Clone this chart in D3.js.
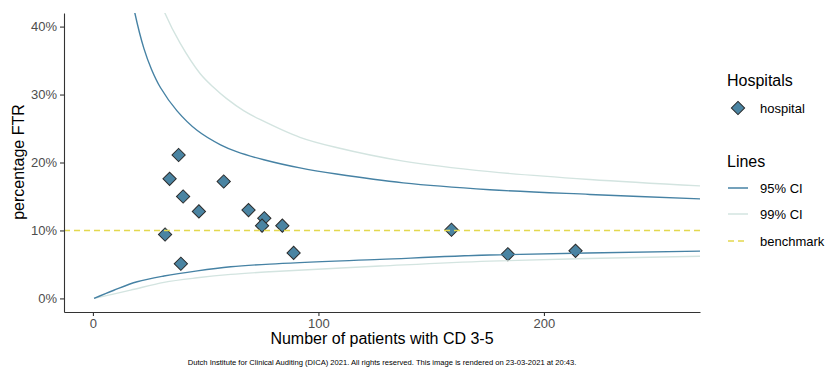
<!DOCTYPE html>
<html>
<head>
<meta charset="utf-8">
<script src="https://cdn.jsdelivr.net/npm/d3@7"></script>
<style>
  body { margin: 0; background: #fff; }
  svg { display: block; font-family: "Liberation Sans", Arial, sans-serif; }
</style>
</head>
<body>
<svg id="chart" width="825" height="367"></svg>
<script>
// ---- data ----
const hospitalN   = [38, 34, 40, 47, 32, 39, 58, 69, 76, 75, 84, 89, 159, 184, 214];
const hospitalPct = [21.1, 17.6, 15.0, 12.8, 9.4, 5.1, 17.2, 13.0, 11.8, 10.7, 10.7, 6.7, 10.1, 6.5, 7.0];

const benchmarkPct = 10;

const ci95UpperN = [15, 18.6, 22.6, 26, 30, 37.3, 46.3, 56.6, 63.7, 75.8, 91.8, 108, 137.6, 176, 220.4, 272.6];
const ci95UpperP = [48.5, 42.0, 36.8, 33.7, 31.0, 27.6, 24.7, 22.6, 21.6, 20.4, 19.2, 18.3, 17.0, 16.0, 15.3, 14.6];

const ci99UpperN = [28, 31.9, 38.6, 47.5, 53.7, 59.3, 67.0, 74.3, 91.8, 108, 137.6, 176, 220.4, 272.6];
const ci99UpperP = [45.5, 42.0, 37.6, 33.1, 31.0, 29.4, 27.6, 26.3, 23.7, 22.2, 20.2, 18.65, 17.5, 16.5];

const ci95LowerN = [0.5, 9.3, 19.6, 31.5, 46.3, 61.1, 78.5, 127.3, 176, 272.6];
const ci95LowerP = [0, 1.2, 2.45, 3.3, 4.06, 4.65, 5.05, 5.74, 6.38, 6.97];

const ci99LowerN = [0.5, 16.7, 31.5, 46.3, 61.1, 78.5, 127.3, 176, 272.6];
const ci99LowerP = [0, 1.22, 2.36, 3.03, 3.53, 3.92, 4.76, 5.49, 6.23];

const xTicks = [0, 100, 200];
const yTicks = [0, 0.1, 0.2, 0.3, 0.4];

const legendLines = ["95% CI", "99% CI", "benchmark"];

// ---- styling ----
const col95 = "#4682A4";
const col99 = "#D3E4E0";
const colBench = "#E3D84E";
const colPoint = "#4A84A2";

const svg = d3.select("#chart");
const pLeft = 64, pRight = 700, pTop = 13, pBottom = 312;

const x = d3.scaleLinear().domain([-12.82, 269.2]).range([pLeft, pRight]);
const y = d3.scaleLinear().domain([-0.02, 0.42]).range([pBottom, pTop]);

svg.append("defs").append("clipPath").attr("id", "panel")
  .append("rect").attr("x", pLeft).attr("y", pTop).attr("width", pRight - pLeft).attr("height", pBottom - pTop);

const plot = svg.append("g").attr("clip-path", "url(#panel)");

// points
const diamond = d3.symbol().type(d3.symbolSquare).size(88);
plot.selectAll("path.pt").data(hospitalN.map((n, i) => ({n, p: hospitalPct[i] / 100})))
  .join("path").attr("class", "pt")
  .attr("d", diamond)
  .attr("transform", d => `translate(${x(d.n)},${y(d.p)}) rotate(45)`)
  .attr("fill", colPoint).attr("stroke", "#2b2b2b").attr("stroke-width", 1);

const line = d3.line().x(d => x(d[0])).y(d => y(d[1] / 100)).curve(d3.curveCatmullRom.alpha(0.5));
function curve(ns, ps, color) {
  plot.append("path").datum(ns.map((n, i) => [n, ps[i]]))
    .attr("d", line).attr("fill", "none").attr("stroke", color).attr("stroke-width", 1.4);
}
curve(ci99UpperN, ci99UpperP, col99);
curve(ci99LowerN, ci99LowerP, col99);
curve(ci95UpperN, ci95UpperP, col95);
curve(ci95LowerN, ci95LowerP, col95);

// benchmark
plot.append("line")
  .attr("x1", pLeft).attr("x2", pRight)
  .attr("y1", y(benchmarkPct / 100)).attr("y2", y(benchmarkPct / 100))
  .attr("stroke", colBench).attr("stroke-width", 1.5).attr("stroke-dasharray", "6,4");

// axes
const yAxis = svg.append("g").attr("transform", `translate(${pLeft},0)`)
  .call(d3.axisLeft(y).tickValues(yTicks).tickFormat(d3.format(".0%")).tickSize(4).tickSizeOuter(0).tickPadding(3));
const xAxis = svg.append("g").attr("transform", `translate(0,${pBottom})`)
  .call(d3.axisBottom(x).tickValues(xTicks).tickFormat(d3.format("d")).tickSize(4).tickSizeOuter(0).tickPadding(3));
[yAxis, xAxis].forEach(a => {
  a.select(".domain").attr("stroke", "#333").attr("stroke-width", 1.1);
  a.selectAll(".tick line").attr("stroke", "#333").attr("stroke-width", 1.1);
  a.selectAll(".tick text").attr("fill", "#4D4D4D").style("font-size", "13px")
    .style("font-family", '"Liberation Sans", Arial, sans-serif');
});

// titles
svg.append("text").attr("transform", "translate(24,162) rotate(-90)")
  .attr("text-anchor", "middle").style("font-size", "16px").attr("fill", "#000")
  .text("percentage FTR");
svg.append("text").attr("x", 382).attr("y", 344)
  .attr("text-anchor", "middle").style("font-size", "16px").attr("fill", "#000")
  .text("Number of patients with CD 3-5");
svg.append("text").attr("x", 382).attr("y", 365)
  .attr("text-anchor", "middle").style("font-size", "7.6px").attr("fill", "#000")
  .text("Dutch Institute for Clinical Auditing (DICA) 2021. All rights reserved. This image is rendered on 23-03-2021 at 20:43.");

// legend
const lg = svg.append("g");
lg.append("text").attr("x", 727).attr("y", 86).style("font-size", "16px").text("Hospitals");
lg.append("path").attr("d", diamond).attr("transform", "translate(738,108) rotate(45)")
  .attr("fill", colPoint).attr("stroke", "#2b2b2b").attr("stroke-width", 1);
lg.append("text").attr("x", 760).attr("y", 112.5).style("font-size", "13px").text("hospital");

lg.append("text").attr("x", 727).attr("y", 167).style("font-size", "16px").text("Lines");
const legendColors = [col95, col99, colBench];
const legendY = [188, 214, 241];
legendLines.forEach((lab, i) => {
  lg.append("line").attr("x1", 728).attr("x2", 748).attr("y1", legendY[i]).attr("y2", legendY[i])
    .attr("stroke", legendColors[i]).attr("stroke-width", 1.5)
    .attr("stroke-dasharray", i === 2 ? "6,4" : null);
  lg.append("text").attr("x", 760).attr("y", legendY[i] + 4.5).style("font-size", "13px").text(lab);
});
</script>
</body>
</html>
